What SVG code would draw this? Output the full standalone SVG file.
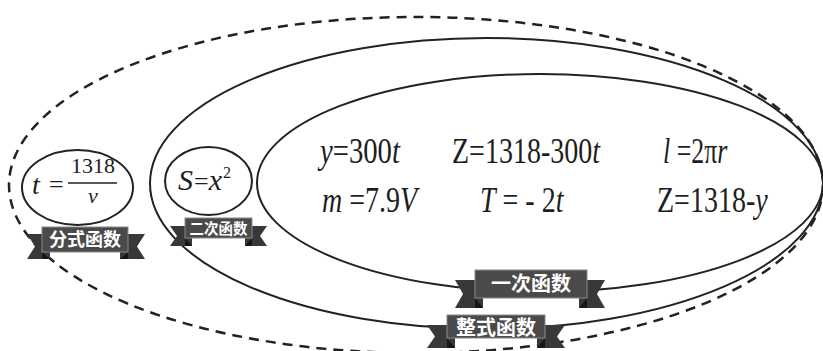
<svg xmlns="http://www.w3.org/2000/svg" width="823" height="351" viewBox="0 0 823 351">
<style>
.set{fill:none;stroke:#222;stroke-width:2}
.dash{fill:none;stroke:#222;stroke-width:2.5;stroke-dasharray:10 7}
.rb{fill:#4a4a4a;stroke:#8a8a8a;stroke-width:1}
.tl{fill:#383838}
.fd{fill:#161616}
</style>
<rect width="823" height="351" fill="#fff"/>
<g id="sets">
<g id="outer-dashed"><ellipse class="dash" cx="416" cy="185" rx="407" ry="168"/></g>
<g id="zhengshi-set"><ellipse class="set" cx="486.5" cy="183.5" rx="336.5" ry="145.5"/></g>
<g id="yici-set" font-family="'Liberation Serif', 'Times New Roman', serif" font-size="35" fill="#1e1e1e">
<ellipse class="set" cx="540" cy="183" rx="283" ry="109"/>
<text transform="translate(320,163) scale(0.82,1)"><tspan font-style="italic">y</tspan><tspan>=300</tspan><tspan font-style="italic">t</tspan></text>
<text transform="translate(452,163) scale(0.8,1)"><tspan>Z=1318-300</tspan><tspan font-style="italic">t</tspan></text>
<text transform="translate(663,163) scale(0.74,1)"><tspan font-style="italic">l</tspan><tspan> =2π</tspan><tspan font-style="italic">r</tspan></text>
<text transform="translate(322,212) scale(0.8,1)"><tspan font-style="italic">m</tspan><tspan> =7.9</tspan><tspan font-style="italic">V</tspan></text>
<text transform="translate(480,212) scale(0.8,1)"><tspan font-style="italic">T</tspan><tspan> = - 2</tspan><tspan font-style="italic">t</tspan></text>
<text transform="translate(657,212) scale(0.8,1)"><tspan>Z=1318-</tspan><tspan font-style="italic">y</tspan></text>
</g>
<g id="fenshi-set" font-family="'Liberation Serif', 'Times New Roman', serif" fill="#1e1e1e">
<ellipse class="set" cx="77.5" cy="187.5" rx="55.5" ry="37.5"/>
<text font-style="italic" font-size="28" x="32" y="194">t</text>
<text font-size="26" x="49" y="193">=</text>
<text font-size="22" x="93" y="173" text-anchor="middle">1318</text>
<line x1="68" y1="183" x2="117" y2="183" stroke="#222" stroke-width="1.5"/>
<text font-style="italic" font-size="22" x="93" y="203" text-anchor="middle">v</text>
</g>
<g id="erci-set" font-family="'Liberation Serif', 'Times New Roman', serif" fill="#1e1e1e">
<ellipse class="set" cx="208.5" cy="181" rx="43.5" ry="34"/>
<text font-size="30" x="178" y="190"><tspan font-style="italic">S</tspan><tspan font-size="26" dx="1">=</tspan><tspan font-style="italic">x</tspan><tspan font-size="16" dx="1" dy="-12">2</tspan></text>
</g>
</g>
<g id="connectors"/>
<g id="labels" font-family="'Noto Sans CJK SC', 'Noto Sans', sans-serif" font-weight="bold" fill="#fff" text-anchor="middle">
<g id="label-fenshi">
<polygon class="tl" points="27,234 50,234 50,259 27,259 35,246.5"/>
<polygon class="tl" points="145,234 120,234 120,259 145,259 137,246.5"/>
<polygon class="fd" points="42,252 42,259 50,259"/>
<polygon class="fd" points="128,252 128,259 120,259"/>
<rect class="rb" x="42" y="227" width="86" height="25"/>
<text font-size="18" x="85" y="246">分式函数</text>
</g>
<g id="label-erci">
<polygon class="tl" points="170,226 192,226 192,246 170,246 177,236"/>
<polygon class="tl" points="267,226 245,226 245,246 267,246 260,236"/>
<polygon class="fd" points="185,238 185,246 192,246"/>
<polygon class="fd" points="252,238 252,246 245,246"/>
<rect class="rb" x="185" y="218" width="67" height="20"/>
<text font-size="14.5" x="218.5" y="234">二次函数</text>
</g>
<g id="label-yici">
<polygon class="tl" points="455,280 483,280 483,308 455,308 463,294"/>
<polygon class="tl" points="605,280 579,280 579,308 605,308 597,294"/>
<polygon class="fd" points="475,298 475,308 483,308"/>
<polygon class="fd" points="587,298 587,308 579,308"/>
<rect class="rb" x="475" y="270" width="112" height="28"/>
<text font-size="20" x="531" y="291">一次函数</text>
</g>
<g id="label-zhengshi">
<polygon class="tl" points="427,325 455,325 455,348 427,348 435,336.5"/>
<polygon class="tl" points="565,325 537,325 537,348 565,348 557,336.5"/>
<polygon class="fd" points="447,338 447,348 455,348"/>
<polygon class="fd" points="545,338 545,348 537,348"/>
<rect class="rb" x="447" y="315" width="98" height="23"/>
<text font-size="20" x="496" y="335">整式函数</text>
</g>
</g>
</svg>
